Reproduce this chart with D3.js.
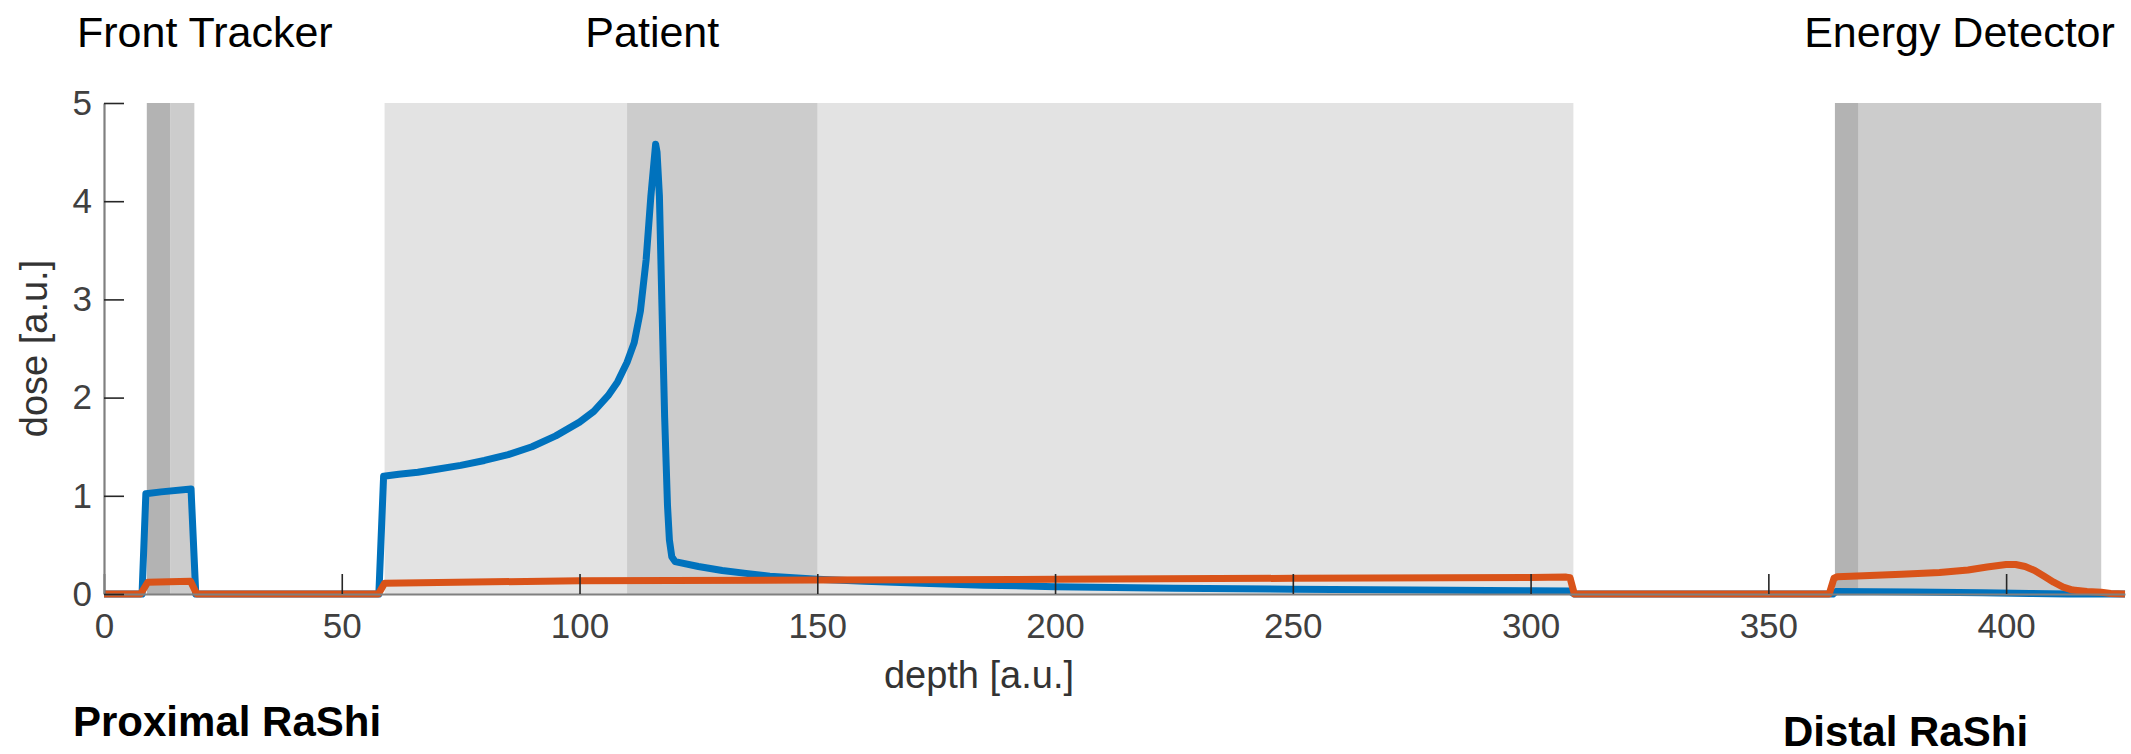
<!DOCTYPE html>
<html>
<head>
<meta charset="utf-8">
<script src="https://cdn.jsdelivr.net/npm/d3@7"></script>
<style>
  body { margin: 0; background: #ffffff; }
  svg { display: block; }
  text { font-family: "Liberation Sans", Arial, Helvetica, sans-serif; }
</style>
</head>
<body>
<svg id="chart" width="2131" height="754"></svg>
<script>
// ---------------- data ----------------
const xTicks = [0, 50, 100, 150, 200, 250, 300, 350, 400];
const yTicks = [0, 1, 2, 3, 4, 5];

// detector / patient regions (depth, a.u.)
const bandStart = [59, 110, 9, 14, 364, 369];
const bandEnd   = [309, 150, 14, 19, 369, 420];
const bandShade = ["pale", "mid", "dark", "mid", "dark", "mid"];

const regionNames = ["Front Tracker", "Patient", "Energy Detector"];
const regionNameDepth = [21.2, 115.3, 390.2];
const rashiNames = ["Proximal RaShi", "Distal RaShi"];

// blue series: primary dose
const depthBlue = [0, 8, 8.8, 12, 18.3, 19.3, 57.8, 58.8, 62, 66, 70, 75, 80, 85, 90, 95, 100, 103, 106, 108, 110, 111.5, 112.8, 114, 115, 116,
  116.3, 116.8, 117.3, 117.9, 118.5, 118.9, 119.4, 120.1, 125, 130, 135, 140, 150, 160, 172, 185, 200, 225, 250, 275, 300, 308.3, 309.2,
  363.6, 364.2, 380, 395, 405, 413, 425];
const doseBlue = [0, 0, 1.02, 1.04, 1.07, 0, 0, 1.20, 1.22, 1.24, 1.27, 1.31, 1.36, 1.42, 1.50, 1.61, 1.75, 1.86, 2.02, 2.16, 2.36, 2.56, 2.88, 3.40, 4.05, 4.58,
  4.50, 4.05, 3.0, 1.8, 0.9, 0.55, 0.38, 0.33, 0.28, 0.24, 0.21, 0.18, 0.15, 0.13, 0.11, 0.09, 0.075, 0.058, 0.048, 0.040, 0.034, 0.03, 0,
  0, 0.025, 0.02, 0.013, 0.006, 0, 0];

// orange series: secondary dose
const depthOrange = [0, 7.7, 9.2, 18.2, 19.5, 57.7, 59, 100, 150, 200, 250, 300, 307.5, 308.3, 309.2,
  362.8, 363.8, 364.5, 370, 378, 386, 392, 396, 400, 402, 404, 406, 408, 410, 412, 414, 417, 420, 422, 425];
const doseOrange = [0, 0, 0.12, 0.13, 0, 0, 0.11, 0.135, 0.143, 0.15, 0.16, 0.168, 0.172, 0.165, 0,
  0, 0.16, 0.175, 0.185, 0.20, 0.22, 0.245, 0.275, 0.30, 0.30, 0.28, 0.24, 0.18, 0.12, 0.07, 0.04, 0.025, 0.018, 0.005, 0];

// ---------------- layout ----------------
const svg = d3.select("#chart");
const plot = { left: 104, right: 2125, top: 103, bottom: 594 };
const x = d3.scaleLinear().domain([0, 425]).range([plot.left, plot.right]);
const y = d3.scaleLinear().domain([0, 5]).range([plot.bottom, plot.top]);

const shadeColor = { pale: "#e3e3e3", mid: "#cccccc", dark: "#b3b3b3" };

// bands
const bands = bandStart.map((s, i) => ({ s, e: bandEnd[i], shade: bandShade[i] }));
svg.append("g").selectAll("rect").data(bands).join("rect")
  .attr("x", d => x(d.s))
  .attr("width", d => x(d.e) - x(d.s))
  .attr("y", y(5))
  .attr("height", y(0) - y(5))
  .attr("fill", d => shadeColor[d.shade]);

// lines
const line = d3.line().x(d => x(d[0])).y(d => y(d[1]));
svg.append("path")
  .datum(depthBlue.map((d, i) => [d, doseBlue[i]]))
  .attr("d", line)
  .attr("fill", "none").attr("stroke", "#0072BD").attr("stroke-width", 7)
  .attr("stroke-linejoin", "round");
svg.append("path")
  .datum(depthOrange.map((d, i) => [d, doseOrange[i]]))
  .attr("d", line)
  .attr("fill", "none").attr("stroke", "#D95319").attr("stroke-width", 7)
  .attr("stroke-linejoin", "round");

// axes
const xAxis = d3.axisBottom(x).tickValues(xTicks).tickFormat(d3.format("d"))
  .tickSizeInner(-20).tickSizeOuter(0).tickPadding(19);
const yAxis = d3.axisLeft(y).tickValues(yTicks).tickFormat(d3.format("d"))
  .tickSizeInner(-20).tickSizeOuter(0).tickPadding(12);

const gx = svg.append("g").attr("transform", `translate(0,${plot.bottom})`).call(xAxis);
const gy = svg.append("g").attr("transform", `translate(${plot.left},0)`).call(yAxis);
[gx, gy].forEach(g => {
  g.select(".domain").attr("stroke", "#808080").attr("stroke-width", 2.2);
  g.selectAll(".tick line").attr("stroke", "#262626").attr("stroke-width", 1.6);
  g.selectAll(".tick text").attr("fill", "#404040").attr("font-size", 35)
    .attr("font-family", "'Liberation Sans', Arial, sans-serif");
});

// axis labels
svg.append("text")
  .attr("x", x(184)).attr("y", 688)
  .attr("text-anchor", "middle").attr("font-size", 38).attr("fill", "#333333")
  .text("depth [a.u.]");
svg.append("text")
  .attr("transform", `translate(47,${(plot.top + plot.bottom) / 2}) rotate(-90)`)
  .attr("text-anchor", "middle").attr("font-size", 38).attr("fill", "#333333")
  .text("dose [a.u.]");

// region titles
svg.append("g").selectAll("text").data(regionNames).join("text")
  .attr("x", (d, i) => x(regionNameDepth[i]))
  .attr("y", 47)
  .attr("text-anchor", "middle").attr("font-size", 43).attr("fill", "#000000")
  .text(d => d);

// RaShi labels
svg.append("text").attr("x", 73).attr("y", 736)
  .attr("font-size", 42).attr("font-weight", "bold").attr("fill", "#000000")
  .text(rashiNames[0]);
svg.append("text").attr("x", 1783).attr("y", 746)
  .attr("font-size", 42).attr("font-weight", "bold").attr("fill", "#000000")
  .text(rashiNames[1]);
</script>
</body>
</html>
